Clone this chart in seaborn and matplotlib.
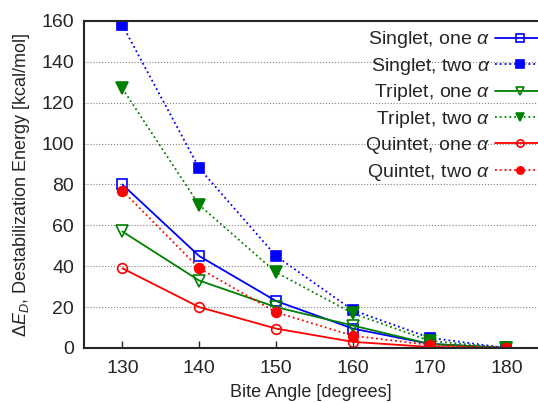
import pandas as pd
import matplotlib.pyplot as plt
import seaborn as sns
import numpy as np

angles = [130, 140, 150, 160, 170, 180]
singlet_one = [80, 45, 23, 9.5, 2, 0]
singlet_two = [158, 88, 45, 18.5, 5, 0]
triplet_one = [57, 33, 20, 11, 2, 0]
triplet_two = [127, 70, 37, 17, 3.5, 0]
quintet_one = [39, 20, 9.5, 3, 0.5, 0]
quintet_two = [77, 39, 17.5, 6, 1.5, 0]

labels = ["Singlet, one $\\alpha$", "Singlet, two $\\alpha$",
          "Triplet, one $\\alpha$", "Triplet, two $\\alpha$",
          "Quintet, one $\\alpha$", "Quintet, two $\\alpha$"]
series = [singlet_one, singlet_two, triplet_one, triplet_two, quintet_one, quintet_two]

styles = [
    dict(color="#0000ff", marker="s", ls="-", filled=False, ms=7),
    dict(color="#0000ff", marker="s", ls=":", filled=True, ms=7),
    dict(color="#008000", marker="v", ls="-", filled=False, ms=8.5),
    dict(color="#008000", marker="v", ls=":", filled=True, ms=8.5),
    dict(color="#ff0000", marker="o", ls="-", filled=False, ms=7),
    dict(color="#ff0000", marker="o", ls=":", filled=True, ms=7),
]

sns.set_style("ticks")
plt.rcParams['font.family'] = ['Liberation Sans', 'DejaVu Sans']
plt.rcParams['mathtext.fontset'] = 'custom'
plt.rcParams['mathtext.it'] = 'Liberation Sans:italic'
plt.rcParams['mathtext.rm'] = 'Liberation Sans'

fig = plt.figure(figsize=(5.38, 4.03), dpi=100)
ax = fig.add_axes([0.156, 0.1365, 0.844, 0.8114])

for vals, lab, st in zip(series, labels, styles):
    df = pd.DataFrame({"angle": angles, "energy": vals})
    sns.lineplot(data=df, x="angle", y="energy", ax=ax, color=st["color"],
                 marker=st["marker"], linestyle=st["ls"], linewidth=1.3,
                 markersize=st["ms"], markeredgewidth=1.2, markeredgecolor=st["color"],
                 markerfacecolor=st["color"] if st["filled"] else "none",
                 label=lab)

ax.set_xlim(125, 184.1)
ax.set_ylim(0, 160)
ax.set_xticks(angles)
ax.set_yticks(np.arange(0, 161, 20))
ax.yaxis.grid(True, linestyle=":", color="0.5", linewidth=0.8)
ax.tick_params(axis="x", direction="in", length=5, labelsize=14, width=1, pad=9)
ax.tick_params(axis="y", length=0, labelsize=14, pad=7)
for s in ax.spines.values():
    s.set_linewidth(1.5)
ax.spines["right"].set_visible(False)
ax.set_xlabel("Bite Angle [degrees]", fontsize=13, labelpad=5)
ax.set_ylabel("$\\Delta E_D$, Destabilization Energy [kcal/mol]", fontsize=13)
ax.yaxis.set_label_coords(-0.115, 0.5)

ax.legend(loc="upper right", markerfirst=False, frameon=False, fontsize=14,
          handlelength=2.5, handletextpad=0.25, labelspacing=0.28, borderaxespad=0,
          markerscale=0.75, bbox_to_anchor=(1.03, 0.998))

fig.savefig("out.png", dpi=100)
